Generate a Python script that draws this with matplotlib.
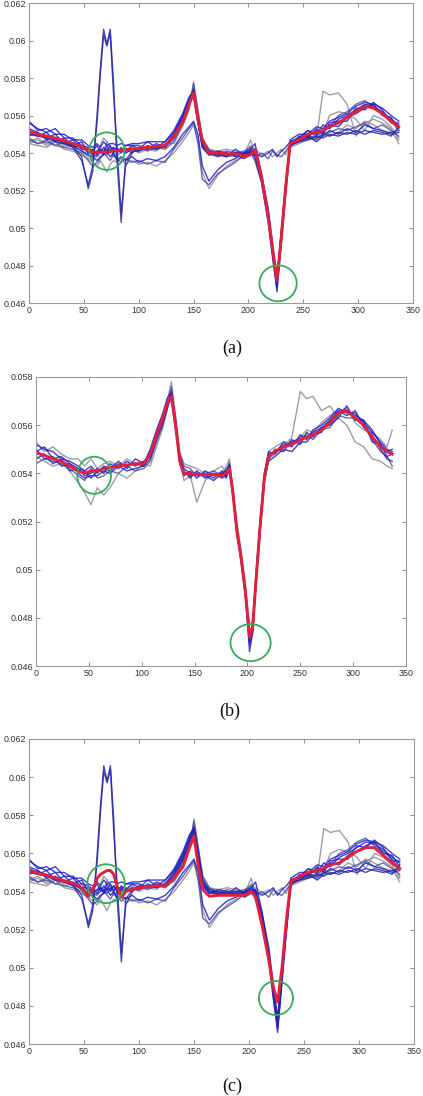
import matplotlib
matplotlib.use("Agg")
import matplotlib.pyplot as plt
from matplotlib.patches import Ellipse
import numpy as np

# ---------------- data (values in units of 1e-4) ----------------
# sample positions for panels (a) and (c)
x_ac = [0, 8, 16, 24, 32, 40, 48, 54,
        58, 62, 65, 68, 71, 74, 77, 80,
        84, 88, 94, 100, 108, 116, 124, 132,
        140, 146, 150, 154, 158, 164, 172, 180,
        188, 196, 202, 206, 212, 218, 222, 226,
        230, 234, 238, 246, 254, 262, 268, 274,
        282, 290, 298, 306, 314, 322, 330, 337]

mean_a = [551.5, 550, 549, 548, 546.5, 545, 543.5, 541.5,
          540.5, 540.5, 540.5, 540.5, 540.5, 541, 541.5, 541,
          541.5, 542, 542, 542.5, 543, 543.5, 544, 549,
          556, 566, 572, 558, 547, 540, 540, 539.5,
          539.5, 538.5, 539, 542, 527, 506, 489, 472,
          495, 522, 545, 547, 550, 551, 552, 554,
          556, 559, 562, 565, 564, 561, 557, 554]

mean_c = [551, 549.5, 548.5, 547, 545.5, 544.5, 542, 537.5,
          541, 547, 549, 550, 551, 551, 549, 543,
          537, 540, 541, 542, 542.5, 543, 543, 547,
          553, 563, 569, 553, 541, 537.5, 538, 538,
          538, 538, 540, 537, 522, 504, 490, 482,
          500, 525, 545, 548, 550, 551, 552, 554,
          555, 558, 561, 563, 563, 559, 555, 552]

tr_m1 = [556, 553, 551, 553, 548, 548, 544, 543,
         541, 544, 540, 543, 541, 544, 540, 543,
         540, 544, 544, 542, 546, 543, 546, 551,
         560, 568, 574, 560, 545, 541, 540, 538,
         542, 539, 541, 538, 526, 507, 488, 469,
         495, 523, 546, 548, 552, 550, 555, 553,
         558, 560, 563, 566, 565, 562, 558, 555]
tr_m2 = [550, 549, 551, 546, 548, 544, 546, 540,
         542, 539, 542, 540, 544, 540, 543, 541,
         542, 541, 544, 544, 542, 545, 543, 548,
         557, 566, 571, 556, 543, 539, 541, 540,
         538, 540, 542, 545, 529, 509, 490, 474,
         498, 520, 544, 546, 549, 552, 551, 555,
         554, 559, 561, 564, 566, 560, 559, 553]
tr_m3 = [553, 551, 548, 550, 545, 547, 542, 542,
         539, 541, 542, 539, 542, 541, 543, 540,
         543, 540, 542, 541, 544, 542, 544, 550,
         559, 569, 572, 559, 546, 540, 538, 540,
         539, 537, 539, 541, 525, 505, 486, 466,
         492, 518, 543, 549, 548, 553, 550, 556,
         557, 557, 564, 563, 567, 563, 556, 556]
tr_m4 = [548, 545, 547, 544, 546, 543, 544, 540,
         540, 538, 540, 541, 539, 542, 541, 542,
         541, 542, 540, 543, 541, 543, 542, 546,
         556, 564, 577, 562, 548, 542, 539, 541,
         540, 541, 543, 540, 528, 511, 492, 471,
         500, 525, 545, 547, 552, 549, 552, 554,
         560, 562, 566, 568, 564, 561, 557, 552]
tr_m5 = [557, 552, 553, 550, 550, 547, 547, 544,
         543, 545, 543, 546, 544, 545, 545, 544,
         545, 544, 545, 545, 546, 546, 546, 552,
         561, 570, 573, 557, 544, 540, 540, 539,
         540, 540, 540, 536, 524, 503, 484, 468,
         494, 521, 547, 550, 550, 554, 553, 557,
         559, 561, 565, 567, 566, 564, 560, 557]
tr_m6 = [546, 548, 545, 547, 544, 545, 542, 539,
         537, 539, 544, 548, 546, 543, 540, 538,
         541, 540, 542, 540, 542, 541, 545, 545,
         554, 563, 578, 563, 547, 542, 541, 542,
         541, 539, 547, 539, 527, 508, 489, 473,
         497, 524, 543, 545, 547, 548, 573, 571,
         572, 566, 549, 556, 558, 556, 553, 545]
tr_s1 = [552, 550, 549, 547, 546, 544, 538, 521,
         530, 560, 585, 606, 598, 606, 578, 538,
         503, 536, 541, 541, 543, 542, 544, 550,
         558, 566, 571, 556, 543, 539, 539, 538,
         539, 539, 540, 539, 526, 506, 487, 470,
         496, 522, 545, 546, 547, 549, 548, 550,
         549, 551, 550, 552, 551, 550, 551, 552]
tr_s2 = [549, 551, 547, 548, 545, 543, 536, 523,
         533, 556, 582, 603, 597, 604, 572, 545,
         508, 533, 540, 543, 542, 544, 543, 549,
         557, 567, 572, 557, 544, 540, 539, 539,
         540, 538, 541, 540, 527, 507, 489, 472,
         497, 523, 546, 548, 549, 548, 550, 549,
         551, 550, 552, 550, 552, 551, 549, 554]
tr_f1 = [547, 545, 546, 544, 543, 542, 540, 536,
         533, 535, 537, 540, 538, 536, 539, 537,
         535, 537, 535, 536, 534, 536, 535, 542,
         548, 553, 556, 545, 526, 523, 529, 532,
         535, 539, 541, 538, 540, 537, 541, 539,
         538, 541, 544, 546, 548, 547, 550, 551,
         553, 552, 554, 556, 553, 555, 552, 549]
tr_f2 = [545, 544, 543, 546, 542, 541, 539, 537,
         535, 533, 536, 533, 530, 534, 536, 535,
         537, 534, 536, 534, 535, 533, 536, 540,
         546, 551, 555, 548, 530, 521, 528, 533,
         536, 538, 540, 542, 539, 541, 538, 540,
         542, 539, 545, 548, 547, 550, 552, 549,
         551, 555, 553, 557, 555, 552, 551, 547]
tr_f3 = [551, 549, 548, 546, 545, 544, 541, 539,
         538, 536, 538, 539, 541, 538, 540, 536,
         538, 536, 538, 535, 537, 536, 538, 543,
         550, 554, 557, 550, 533, 525, 531, 535,
         537, 540, 542, 540, 538, 540, 542, 538,
         541, 543, 546, 547, 549, 546, 549, 552,
         550, 553, 551, 555, 553, 552, 550, 551]
tr_g2 = [545, 547, 544, 546, 543, 544, 541, 538,
         539, 541, 543, 541, 546, 543, 538, 540,
         542, 541, 543, 541, 543, 542, 544, 547,
         555, 565, 576, 561, 546, 541, 541, 540,
         539, 540, 544, 540, 526, 507, 488, 472,
         496, 522, 544, 546, 548, 549, 551, 560,
         562, 561, 558, 552, 560, 558, 554, 548]

# sample positions for panel (b)
x_b = [0, 8, 16, 24, 32, 40, 46, 52,
       58, 64, 70, 78, 86, 94, 102, 108,
       114, 120, 124, 128, 132, 136, 140, 146,
       152, 160, 168, 176, 180, 183, 186, 190,
       194, 198, 202, 205, 208, 212, 216, 220,
       226, 234, 242, 250, 256, 262, 270, 278,
       286, 294, 302, 310, 318, 326, 332, 337]

mean_b = [548.5, 547.5, 546, 545, 543, 541, 540, 541,
          541, 542, 542.5, 543, 543.5, 544, 544, 548,
          556, 563, 569, 572, 560, 545, 540, 540,
          539.5, 539.5, 539.5, 539, 540, 542, 533, 516,
          505, 491, 472, 476, 495, 518, 538, 547,
          549, 551, 552, 554, 555, 556, 558, 561,
          565, 566, 563, 560, 555, 551, 549, 548]

tr_b1 = [552, 550, 549, 546, 545, 543, 541, 543,
         540, 543, 542, 545, 542, 546, 544, 550,
         558, 565, 571, 574, 562, 544, 539, 541,
         538, 541, 539, 540, 541, 544, 534, 517,
         506, 492, 470, 478, 497, 520, 540, 549,
         548, 553, 551, 556, 554, 558, 560, 563,
         567, 565, 565, 561, 557, 553, 550, 549]
tr_b2 = [546, 548, 544, 546, 541, 542, 539, 540,
         542, 540, 544, 542, 545, 543, 545, 547,
         555, 562, 568, 571, 558, 547, 541, 538,
         541, 538, 540, 538, 539, 541, 531, 515,
         503, 489, 473, 475, 493, 516, 536, 546,
         550, 549, 554, 552, 557, 555, 559, 560,
         563, 568, 562, 562, 553, 552, 547, 548]
tr_b3 = [550, 546, 547, 543, 544, 540, 538, 539,
         539, 541, 540, 543, 541, 542, 543, 546,
         554, 561, 567, 572, 561, 546, 542, 540,
         540, 540, 538, 541, 538, 543, 532, 518,
         504, 490, 466, 474, 494, 517, 538, 545,
         547, 550, 549, 553, 553, 556, 557, 562,
         566, 564, 566, 559, 556, 550, 546, 545]
tr_b4 = [544, 546, 545, 544, 542, 539, 537, 542,
         538, 539, 541, 540, 543, 541, 542, 545,
         553, 560, 566, 576, 563, 548, 543, 542,
         539, 539, 541, 539, 542, 543, 533, 516,
         505, 491, 474, 477, 496, 519, 539, 548,
         549, 552, 552, 555, 556, 554, 558, 559,
         564, 563, 563, 560, 554, 549, 547, 543]
tr_b5 = [547, 545, 543, 544, 541, 536, 532, 527,
         534, 531, 534, 540, 538, 541, 544, 543,
         551, 559, 567, 575, 560, 545, 537, 539,
         528, 537, 540, 540, 543, 546, 533, 519,
         507, 493, 475, 476, 495, 516, 537, 546,
         548, 551, 555, 574, 571, 572, 566, 568,
         563, 560, 553, 551, 546, 545, 543, 542]
tr_b6 = [553, 549, 551, 548, 546, 546, 543, 546,
         542, 544, 545, 543, 546, 544, 545, 548,
         557, 564, 570, 578, 564, 549, 544, 543,
         542, 540, 541, 543, 540, 545, 535, 520,
         508, 494, 477, 479, 498, 521, 540, 549,
         551, 553, 553, 555, 558, 557, 561, 564,
         566, 567, 561, 558, 557, 554, 551, 558]
tr_b7 = [549, 551, 546, 547, 544, 542, 541, 538,
         541, 542, 541, 544, 543, 544, 543, 549,
         556, 563, 569, 573, 559, 545, 540, 539,
         540, 539, 537, 540, 539, 542, 533, 516,
         505, 490, 469, 474, 494, 518, 537, 547,
         549, 551, 553, 554, 555, 557, 559, 562,
         565, 566, 564, 562, 558, 552, 549, 550]

x_ticks = [0, 50, 100, 150, 200, 250, 300, 350]
y_ticks_ac = [0.046, 0.048, 0.05, 0.052, 0.054, 0.056, 0.058, 0.06, 0.062]
y_ticks_b = [0.046, 0.048, 0.05, 0.052, 0.054, 0.056, 0.058]
captions = ["(a)", "(b)", "(c)"]

# circles: (center x, center y, half-width, half-height)
circles_a = [(71, 0.0541, 16, 0.00100), (227, 0.04705, 17, 0.00096)]
circles_b = [(55, 0.05392, 16, 0.00077), (203, 0.04697, 19, 0.00077)]
circles_c = [(70, 0.05441, 17, 0.00102), (224.5, 0.04841, 15.5, 0.00089)]

# ---------------- styling ----------------
BLUE = "#1e1ec8"
SLATE = "#50509c"
GRAY = "#8c8c9c"
RED = "#e3203a"
GREEN = "#3aaa5c"

traces_ac = [(tr_f2, GRAY), (tr_g2, GRAY), (tr_m6, GRAY), (tr_f1, SLATE),
             (tr_m4, SLATE), (tr_f3, BLUE), (tr_m1, BLUE), (tr_m2, BLUE),
             (tr_m3, BLUE), (tr_m5, BLUE), (tr_s1, "#2a2a9a"), (tr_s2, "#2a2aa8")]
traces_b = [(tr_b5, GRAY), (tr_b6, GRAY), (tr_b4, SLATE), (tr_b1, BLUE),
            (tr_b2, BLUE), (tr_b3, BLUE), (tr_b7, BLUE)]

SCALE = 1e-4

fig = plt.figure(figsize=(4.23, 10.96), dpi=100)
W, H = 423.0, 1096.0


def make_ax(left, right, top, bottom):
    return fig.add_axes([left / W, 1 - bottom / H, (right - left) / W, (bottom - top) / H])


def style(ax, yticks, ylim):
    ax.set_xlim(0, 350)
    ax.set_ylim(*ylim)
    ax.set_xticks(x_ticks)
    ax.set_xticklabels([str(t) for t in x_ticks])
    ax.set_yticks(yticks)
    ax.set_yticklabels([("%g" % t) for t in yticks])
    ax.tick_params(direction="in", top=True, right=True, length=3, width=0.6,
                   colors="#777777", labelcolor="#333333", labelsize=6.4, pad=2)
    for lab in ax.get_xticklabels() + ax.get_yticklabels():
        lab.set_fontfamily("Liberation Sans")
    for s in ax.spines.values():
        s.set_color("#9a9a9a")
        s.set_linewidth(0.8)


def draw(ax, xs, traces, mean, circles):
    for vals, col in traces:
        ax.plot(xs, np.array(vals) * SCALE, color=col, lw=1.0, alpha=0.85)
    ax.plot(xs, np.array(mean) * SCALE, color=RED, lw=2.1)
    for cx, cy, rx, ry in circles:
        ax.add_patch(Ellipse((cx, cy), 2 * rx, 2 * ry, fill=False,
                             edgecolor=GREEN, lw=1.3, zorder=5))


ax_a = make_ax(29, 413, 3, 303)
draw(ax_a, x_ac, traces_ac, mean_a, circles_a)
style(ax_a, y_ticks_ac, (0.046, 0.062))

ax_b = make_ax(36, 406, 377, 666)
draw(ax_b, x_b, traces_b, mean_b, circles_b)
style(ax_b, y_ticks_b, (0.046, 0.058))

ax_c = make_ax(29, 414, 739, 1044)
draw(ax_c, x_ac, traces_ac, mean_c, circles_c)
style(ax_c, y_ticks_ac, (0.046, 0.062))

for label, (cx, cy) in zip(captions, [(232, 348), (230, 711), (232, 1086)]):
    fig.text(cx / W, 1 - cy / H, label, ha="center", va="center",
             fontsize=13, family="Liberation Serif", color="#111111")

fig.savefig("out.png", dpi=100)
